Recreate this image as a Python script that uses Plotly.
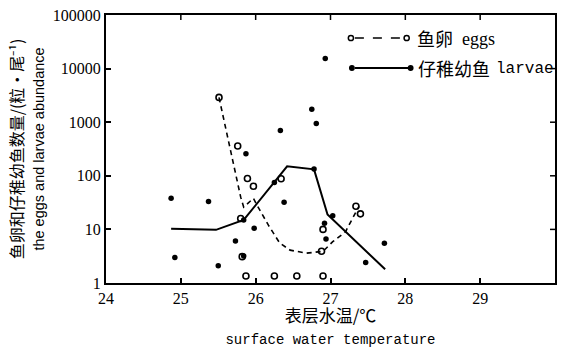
import math
import plotly.graph_objects as go

# ---------------- data ----------------
egg_line_t = [25.51, 25.80, 25.84, 25.97, 26.02, 26.17, 26.32, 26.46, 26.68, 26.90, 27.03, 27.20, 27.38]
egg_line_v = [2900, 40, 26, 38, 28, 12, 5.6, 4.1, 3.6, 3.9, 5.9, 9.0, 27]
egg_t = [25.51, 25.76, 25.89, 25.97, 25.80, 25.82, 26.34, 26.90, 26.88, 27.34, 27.40,
         25.87, 26.25, 26.55, 26.90]
egg_v = [2900, 360, 89, 64, 16, 3.1, 88, 10, 3.9, 27, 19.5,
         1.35, 1.35, 1.35, 1.35]
larvae_line_t = [24.87, 25.47, 25.84, 26.42, 26.78, 26.96, 27.73]
larvae_line_v = [10.3, 9.8, 15, 150, 132, 19, 1.8]
larvae_t = [24.87, 24.92, 25.37, 25.50, 25.73, 25.84, 25.84, 25.87, 25.98, 26.25,
            26.33, 26.38, 26.75, 26.81, 26.78, 26.93, 26.92, 27.03, 26.94, 27.47, 27.72]
larvae_v = [38, 3.0, 33, 2.1, 6.1, 3.2, 15, 257, 10.5, 75,
            700, 32, 1740, 950, 134, 15500, 13, 18, 6.6, 2.4, 5.5]

x_ticks = [24, 25, 26, 27, 28, 29, 30]
y_ticks = [1, 10, 100, 1000, 10000, 100000]
y_tick_text = ["1", "10", "100", "1000", "10000", "100000"]

W, H = 561, 348
L, R, T, B = 106, 4, 15, 65
PW, PH = W - L - R, H - T - B
X0, X1 = 24, 30
YDEC = 5


def px(xp):
    return (xp - L) / PW


def py(yp):
    return (H - B - yp) / PH


fig = go.Figure()
fig.add_trace(go.Scatter(x=egg_line_t, y=egg_line_v, mode="lines",
                         line=dict(color="black", width=1.6, dash="5px,4px"),
                         showlegend=False, hoverinfo="skip"))
fig.add_trace(go.Scatter(x=larvae_line_t, y=larvae_line_v, mode="lines",
                         line=dict(color="black", width=2),
                         showlegend=False, hoverinfo="skip"))
fig.add_trace(go.Scatter(x=egg_t, y=egg_v, mode="markers",
                         marker=dict(symbol="circle-open", size=6, color="black",
                                     line=dict(width=1.6, color="black")),
                         showlegend=False))
fig.add_trace(go.Scatter(x=larvae_t, y=larvae_v, mode="markers",
                         marker=dict(symbol="circle", size=5.5, color="black"),
                         showlegend=False))

axis_common = dict(showline=True, linecolor="black", linewidth=2, mirror=True,
                   ticks="inside", ticklen=5, tickwidth=1.5, tickcolor="black",
                   showgrid=False, zeroline=False,
                   tickfont=dict(family="Liberation Serif", size=16, color="black"))

fig.update_layout(
    width=W, height=H,
    margin=dict(l=L, r=R, t=T, b=B),
    paper_bgcolor="white", plot_bgcolor="white",
    xaxis=dict(range=[X0, X1], tickvals=x_ticks, **axis_common),
    yaxis=dict(type="log", range=[0, YDEC], tickvals=y_ticks, ticktext=y_tick_text,
               **axis_common),
)

shapes = []
annotations = []

for t in x_ticks[1:-1]:
    shapes.append(dict(type="line", xref="paper", yref="paper",
                       x0=(t - X0) / (X1 - X0), x1=(t - X0) / (X1 - X0),
                       y0=1, y1=1 - 5 / PH, line=dict(color="black", width=1.5)))
for v in y_ticks[1:-1]:
    yp = math.log10(v) / YDEC
    shapes.append(dict(type="line", xref="paper", yref="paper",
                       x0=1, x1=1 - 5 / PW, y0=yp, y1=yp,
                       line=dict(color="black", width=1.5)))


def circle(xc, yc, r, filled):
    shapes.append(dict(type="circle", xref="paper", yref="paper",
                       x0=px(xc - r), x1=px(xc + r), y0=py(yc + r), y1=py(yc - r),
                       line=dict(color="black", width=1.5),
                       fillcolor="black" if filled else "rgba(0,0,0,0)"))


def label(xp, yp, text, family, size, xanchor="left"):
    annotations.append(dict(xref="paper", yref="paper", x=px(xp), y=py(yp),
                            xanchor=xanchor, yanchor="middle",
                            showarrow=False, text=text,
                            font=dict(family=family, size=size, color="black")))


shapes.append(dict(type="line", xref="paper", yref="paper",
                   x0=px(356), x1=px(405), y0=py(38), y1=py(38),
                   line=dict(color="black", width=1.6, dash="dash")))
circle(352, 38, 2.6, False)
circle(408, 38, 2.6, False)
shapes.append(dict(type="line", xref="paper", yref="paper",
                   x0=px(356), x1=px(410), y0=py(68), y1=py(68),
                   line=dict(color="black", width=2)))
circle(353, 68, 2.2, True)
circle(412, 68, 2.2, True)

label(416, 38, "鱼卵", "Noto Sans CJK SC", 18)
label(462, 39, "eggs", "Liberation Serif", 18)
label(417, 68, "仔稚幼鱼", "Noto Sans CJK SC", 18)
label(496, 69, "larvae", "Liberation Mono", 16)

# axis titles as real axis titles
fig.update_layout(
    xaxis_title=dict(text="表层水温/℃<br><span style='font-family:Liberation Mono;font-size:14px'>surface water temperature</span>",
                     font=dict(family="Noto Sans CJK SC", size=17, color="black"), standoff=2),
    yaxis_title=dict(text="鱼卵和仔稚幼鱼数量/(粒·尾⁻¹)<br><span style='font-family:Liberation Sans;font-size:14.5px'>the eggs and larvae abundance</span>",
                     font=dict(family="Noto Sans CJK SC", size=16, color="black"), standoff=4),
)

fig.update_layout(shapes=shapes, annotations=annotations)

fig.write_html("out.html", config={"displayModeBar": False},
               post_script="document.body.style.margin='0';")
